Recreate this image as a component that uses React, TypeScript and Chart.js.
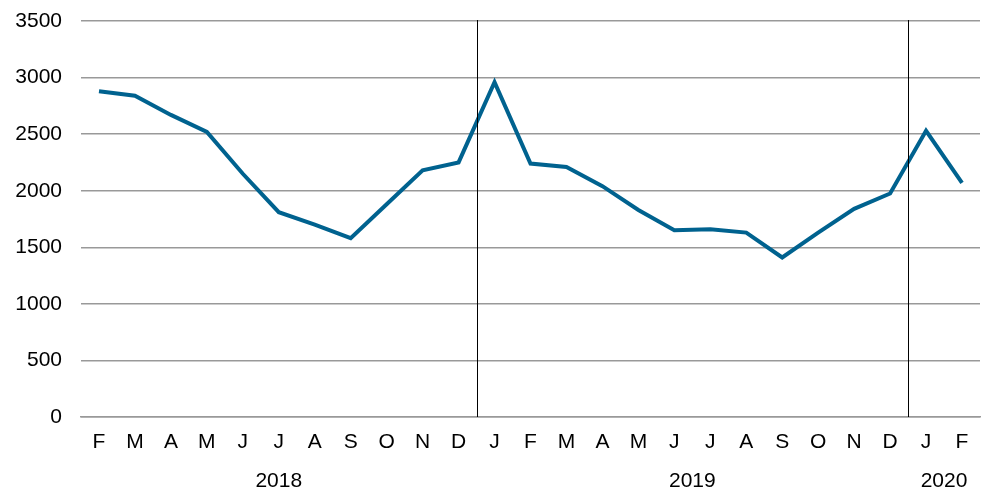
import React, { useEffect, useRef } from "react";
import { Chart, registerables } from "chart.js";

Chart.register(...registerables);

const months = ["F","M","A","M","J","J","A","S","O","N","D","J","F","M","A","M","J","J","A","S","O","N","D","J","F"];
const values = [2880,2840,2670,2520,2150,1810,1700,1580,1880,2180,2250,2960,2240,2210,2040,1830,1650,1660,1630,1410,1630,1840,1975,2530,2070];
const years = ["2018", "2019", "2020"];
const yearStart = [0, 11, 23];
const yearEnd = [10, 22, 24];
const yTicks = [0, 500, 1000, 1500, 2000, 2500, 3000, 3500];

const FONT = "'Liberation Sans', Arial, sans-serif";
const FS = 21;

const yearPlugin = {
  id: "yearPlugin",
  afterDraw(chart: any) {
    const { ctx, chartArea, scales } = chart;
    const x = scales.x;
    ctx.save();
    ctx.strokeStyle = "#000";
    ctx.lineWidth = 1;
    for (let i = 1; i < yearStart.length; i++) {
      const px = Math.round((x.getPixelForValue(yearStart[i]) + x.getPixelForValue(yearStart[i] - 1)) / 2) + 0.5;
      ctx.beginPath();
      ctx.moveTo(px, chartArea.top - 1);
      ctx.lineTo(px, chartArea.bottom);
      ctx.stroke();
    }
    ctx.fillStyle = "#000";
    ctx.font = FS + "px " + FONT;
    ctx.textAlign = "center";
    ctx.textBaseline = "middle";
    for (let i = 0; i < years.length; i++) {
      const cx = (x.getPixelForValue(yearStart[i]) + x.getPixelForValue(yearEnd[i])) / 2;
      ctx.fillText(years[i], cx, chartArea.bottom + 64);
    }
    ctx.restore();
  },
};

export default function App() {
  const ref = useRef<HTMLCanvasElement>(null);
  useEffect(() => {
    document.body.style.margin = "0";
    const chart = new Chart(ref.current!, {
      type: "line",
      data: {
        labels: months,
        datasets: [
          {
            data: values,
            borderColor: "#00628F",
            borderWidth: 4,
            pointRadius: 0,
            tension: 0,
            fill: false,
          },
        ],
      },
      options: {
        animation: false,
        responsive: false,
        maintainAspectRatio: false,
        layout: { padding: { top: 21, right: 7, left: 0, bottom: 0 } },
        plugins: { legend: { display: false }, tooltip: { enabled: false } },
        scales: {
          x: {
            offset: true,
            grid: { display: false, drawTicks: false },
            border: { display: true, color: "#999", width: 1.5 },
            ticks: { color: "#000", font: { size: FS, family: FONT }, padding: 13, maxRotation: 0, autoSkip: false },
            afterFit(s: any) { s.height = 76; s.paddingLeft = 0; s.paddingRight = 0; },
          },
          y: {
            min: 0,
            max: 3500,
            afterBuildTicks(s: any) { s.ticks = yTicks.map((v) => ({ value: v })); },
            grid: { color: "#999", lineWidth: 1.5, drawTicks: false },
            border: { display: false },
            ticks: { color: "#000", font: { size: FS, family: FONT }, padding: 19, callback: (v: any) => String(v) },
            afterFit(s: any) { s.width = 81; s.paddingTop = 0; s.paddingBottom = 0; },
          },
        },
      },
      plugins: [yearPlugin],
    });
    return () => chart.destroy();
  }, []);
  return (
    <div style={{ width: 987, height: 493 }}>
      <canvas ref={ref} width={987} height={493} style={{ display: "block" }} />
    </div>
  );
}
